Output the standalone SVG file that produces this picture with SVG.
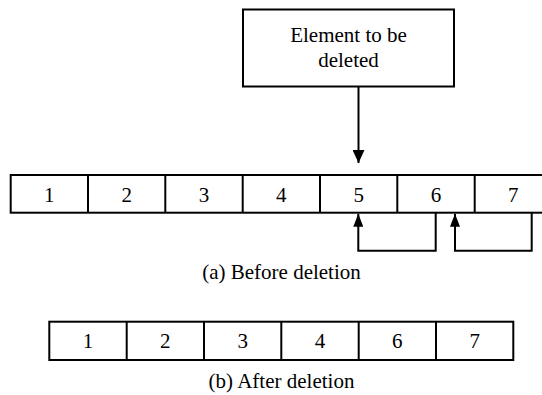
<svg xmlns="http://www.w3.org/2000/svg" width="542" height="395" viewBox="0 0 542 395">
<style>
.box{fill:#fff;stroke:#000;stroke-width:2}
.ln{fill:none;stroke:#000;stroke-width:2}
text{font-family:"Liberation Serif","Times New Roman",serif;font-size:21px;fill:#000;text-anchor:middle}
</style>
<defs>
<marker id="ah" markerWidth="13" markerHeight="12" refX="13" refY="6" orient="auto" markerUnits="userSpaceOnUse">
<path d="M0,0 L13,6 L0,12 Z" fill="#000"/>
</marker>
<marker id="ah2" markerWidth="13" markerHeight="10" refX="13" refY="5" orient="auto" markerUnits="userSpaceOnUse">
<path d="M0,0 L13,5 L0,10 Z" fill="#000"/>
</marker>
</defs>
<rect width="542" height="395" fill="#fff"/>
<g id="label-box">
<rect class="box" x="243" y="9.5" width="211" height="77"/>
<text x="348.5" y="42">Element to be</text>
<text x="348.5" y="67">deleted</text>
</g>
<g id="array-a">
<rect class="box" x="10.7" y="175" width="541" height="37.7"/>
<line class="ln" x1="88" y1="175" x2="88" y2="212.7"/>
<line class="ln" x1="165.3" y1="175" x2="165.3" y2="212.7"/>
<line class="ln" x1="242.7" y1="175" x2="242.7" y2="212.7"/>
<line class="ln" x1="320" y1="175" x2="320" y2="212.7"/>
<line class="ln" x1="397.3" y1="175" x2="397.3" y2="212.7"/>
<line class="ln" x1="474.7" y1="175" x2="474.7" y2="212.7"/>
<text x="49.3" y="201.5">1</text>
<text x="126.7" y="201.5">2</text>
<text x="204" y="201.5">3</text>
<text x="281.3" y="201.5">4</text>
<text x="358.7" y="201.5">5</text>
<text x="436" y="201.5">6</text>
<text x="513.3" y="201.5">7</text>
</g>
<g id="caption-a"><text x="281.5" y="278.5">(a) Before deletion</text></g>
<g id="array-b">
<rect class="box" x="49.3" y="321.7" width="464" height="38.3"/>
<line class="ln" x1="126.7" y1="321.7" x2="126.7" y2="360"/>
<line class="ln" x1="204" y1="321.7" x2="204" y2="360"/>
<line class="ln" x1="281.3" y1="321.7" x2="281.3" y2="360"/>
<line class="ln" x1="358.7" y1="321.7" x2="358.7" y2="360"/>
<line class="ln" x1="436" y1="321.7" x2="436" y2="360"/>
<text x="88" y="347.5">1</text>
<text x="165.3" y="347.5">2</text>
<text x="242.7" y="347.5">3</text>
<text x="320" y="347.5">4</text>
<text x="397.3" y="347.5">6</text>
<text x="474.7" y="347.5">7</text>
</g>
<g id="caption-b"><text x="281.5" y="388">(b) After deletion</text></g>
<g id="connectors">
<line class="ln" x1="358.5" y1="87" x2="358.5" y2="163" marker-end="url(#ah)"/>
<polyline class="ln" points="435.7,212.7 435.7,250.7 358.3,250.7 358.3,213.7" marker-end="url(#ah2)"/>
<polyline class="ln" points="531.7,212.7 531.7,250.7 455,250.7 455,213.7" marker-end="url(#ah2)"/>
</g>
</svg>
